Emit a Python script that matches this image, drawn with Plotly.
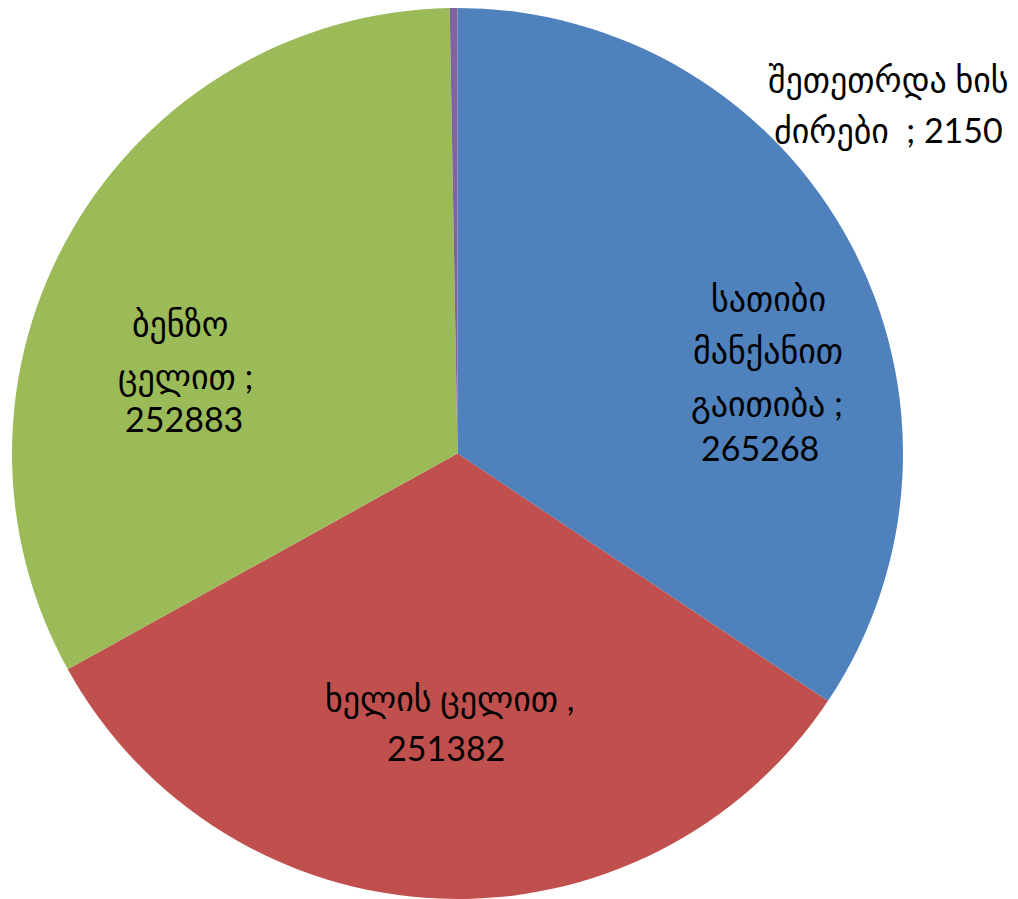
import plotly.graph_objects as go

labels = ["სათიბი მანქანით გაითიბა", "ხელის ცელით", "ბენზო ცელით", "შეთეთრდა ხის ძირები"]
values = [265268, 251382, 252883, 2150]
colors = ["#4F81BD", "#C0504D", "#9BBB59", "#8064A2"]
label_lines = [
    ["სათიბი", "მანქანით", "გაითიბა ;", "265268"],
    ["ხელის ცელით ,", "251382"],
    ["ბენზო", "ცელით ;", "252883"],
    ["შეთეთრდა ხის", "ძირები  ; 2150"],
]
label_x = [[760, 760, 759, 752], [441, 438], [172, 177, 176], [880, 880]]
label_y = [[290, 342, 395, 440], [690, 739], [315, 368, 410], [71, 122]]

W, H = 1018, 899
fig = go.Figure(go.Pie(
    labels=labels, values=values, sort=False, direction="clockwise", rotation=0,
    marker=dict(colors=colors, line=dict(color="white", width=0)),
    textinfo="none", hoverinfo="label+value", showlegend=False,
    domain=dict(x=[4 / W, 895 / W], y=[8 / H, 1]),
))
font = dict(family="Lato, DejaVu Sans, sans-serif", size=34, color="black")
for lines, xs, ys in zip(label_lines, label_x, label_y):
    for txt, x, y in zip(lines, xs, ys):
        fig.add_annotation(x=x / W, y=1 - y / H, xref="paper", yref="paper", text=txt,
                           showarrow=False, font=font, align="center",
                           xanchor="center", yanchor="middle")
fig.update_layout(width=W, height=H, margin=dict(l=0, r=0, t=0, b=0),
                  paper_bgcolor="white", plot_bgcolor="white")
fig.write_html("out.html")
